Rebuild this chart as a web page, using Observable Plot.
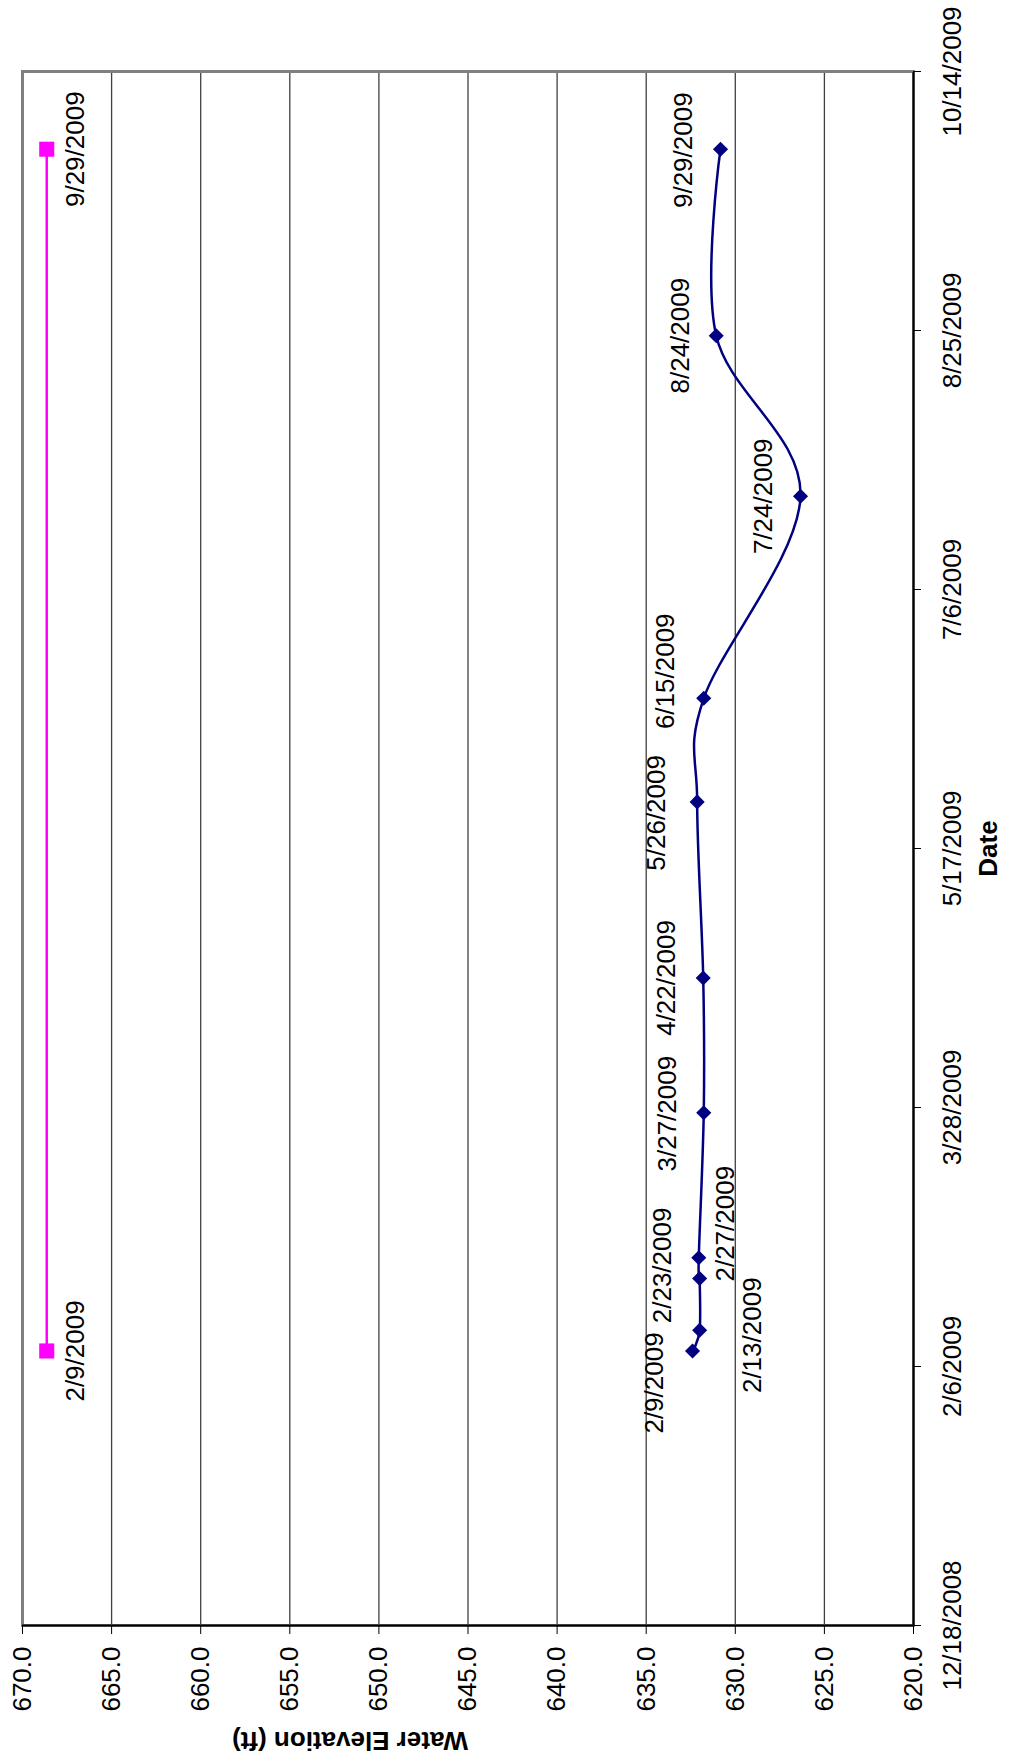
<!DOCTYPE html>
<html>
<head>
<meta charset="utf-8">
<script src="https://cdn.jsdelivr.net/npm/d3@7"></script>
<script src="https://cdn.jsdelivr.net/npm/@observablehq/plot@0.6"></script>
<style>
  html, body { margin: 0; padding: 0; background: #fff; }
  body { width: 1016px; height: 1758px; overflow: hidden; position: relative; }
  #chart {
    position: absolute; left: 0; top: 0;
    width: 1758px; height: 1016px;
    transform-origin: 0 0;
    transform: translate(0px, 1758px) rotate(-90deg);
  }
</style>
</head>
<body>
<div id="chart"></div>
<script>
// ---- data ----
const blueDates = ["2/9/2009", "2/13/2009", "2/23/2009", "2/27/2009", "3/27/2009", "4/22/2009",
                   "5/26/2009", "6/15/2009", "7/24/2009", "8/24/2009", "9/29/2009"];
const blueElev = [632.4, 632.0, 632.0, 632.05, 631.77, 631.8, 632.14, 631.77, 626.34, 631.07, 630.83];

const magentaDates = ["2/9/2009", "9/29/2009"];
const magentaElev = [668.64, 668.64];

const dateTicks = ["12/18/2008", "2/6/2009", "3/28/2009", "5/17/2009", "7/6/2009", "8/25/2009", "10/14/2009"];
const elevTicks = [620, 625, 630, 635, 640, 645, 650, 655, 660, 665, 670];

const yTitle = "Water Elevation (ft)";
const xTitle = "Date";

// label offsets (px) for the hand-placed data labels
const blueLabelOffsets = [[-32, -38], [-5, 53], [13, -37], [34, 27], [-1, -36], [0, -37],
                          [-11, -40], [27, -38], [0, -37], [0, -36], [-1, -37]];
const magentaLabelOffsets = [[0, 29], [0, 29]];

// ---- build ----
const parse = d3.utcParse("%m/%d/%Y");
const fmt = d3.utcFormat("%-m/%-d/%Y");

const blue = blueDates.map((d, i) => ({date: parse(d), elev: blueElev[i], label: d}));
const magenta = magentaDates.map((d, i) => ({date: parse(d), elev: magentaElev[i], label: d}));
const ticksX = dateTicks.map(parse);

const labelFont = {fontSize: 26, fill: "black"};

const chart = Plot.plot({
  width: 1758,
  height: 1016,
  marginLeft: 132,
  marginRight: 72,
  marginTop: 22,
  marginBottom: 103,
  style: {fontFamily: "'Liberation Sans', Arial, sans-serif", fontSize: "26px", background: "white", color: "black"},
  x: {type: "utc", domain: [ticksX[0], ticksX[ticksX.length - 1]]},
  y: {domain: [620, 670]},
  marks: [
    Plot.ruleY(elevTicks.filter(v => v > 620 && v < 670), {stroke: "#404040", strokeWidth: 1.3}),
    Plot.frame({stroke: "#808080", strokeWidth: 3}),
    Plot.ruleY([620], {stroke: "#000", strokeWidth: 2}),
    Plot.ruleX([ticksX[0]], {stroke: "#000", strokeWidth: 2}),
    Plot.axisX({ticks: ticksX, tickFormat: fmt, tickSize: 8, tickPadding: 21, label: null, stroke: "black"}),
    Plot.axisY({ticks: elevTicks, tickFormat: d3.format(".1f"), tickSize: 8, tickPadding: 13, label: null, stroke: "black"}),
    Plot.line(magenta, {x: "date", y: "elev", stroke: "#FF00FF", strokeWidth: 2.5}),
    Plot.dot(magenta, {x: "date", y: "elev", symbol: "square", r: 8.5, fill: "#FF00FF", stroke: "none"}),
    Plot.line(blue, {x: "date", y: "elev", stroke: "#000080", strokeWidth: 2.5, curve: "cardinal", tension: 0}),
    Plot.dot(blue, {x: "date", y: "elev", symbol: "diamond2", r: 6.8, fill: "#000080", stroke: "none"}),
    ...blue.map((d, i) => Plot.text([d], {x: "date", y: "elev", text: "label",
        dx: blueLabelOffsets[i][0], dy: blueLabelOffsets[i][1], ...labelFont})),
    ...magenta.map((d, i) => Plot.text([d], {x: "date", y: "elev", text: "label",
        dx: magentaLabelOffsets[i][0], dy: magentaLabelOffsets[i][1], ...labelFont})),
    Plot.text([yTitle], {frameAnchor: "left", dx: -115, rotate: -90, fontWeight: "bold", fontSize: 26, fill: "black"}),
    Plot.text([xTitle], {frameAnchor: "bottom", dy: 83, fontWeight: "bold", fontSize: 26, fill: "black"})
  ]
});

document.getElementById("chart").appendChild(chart);
</script>
</body>
</html>
